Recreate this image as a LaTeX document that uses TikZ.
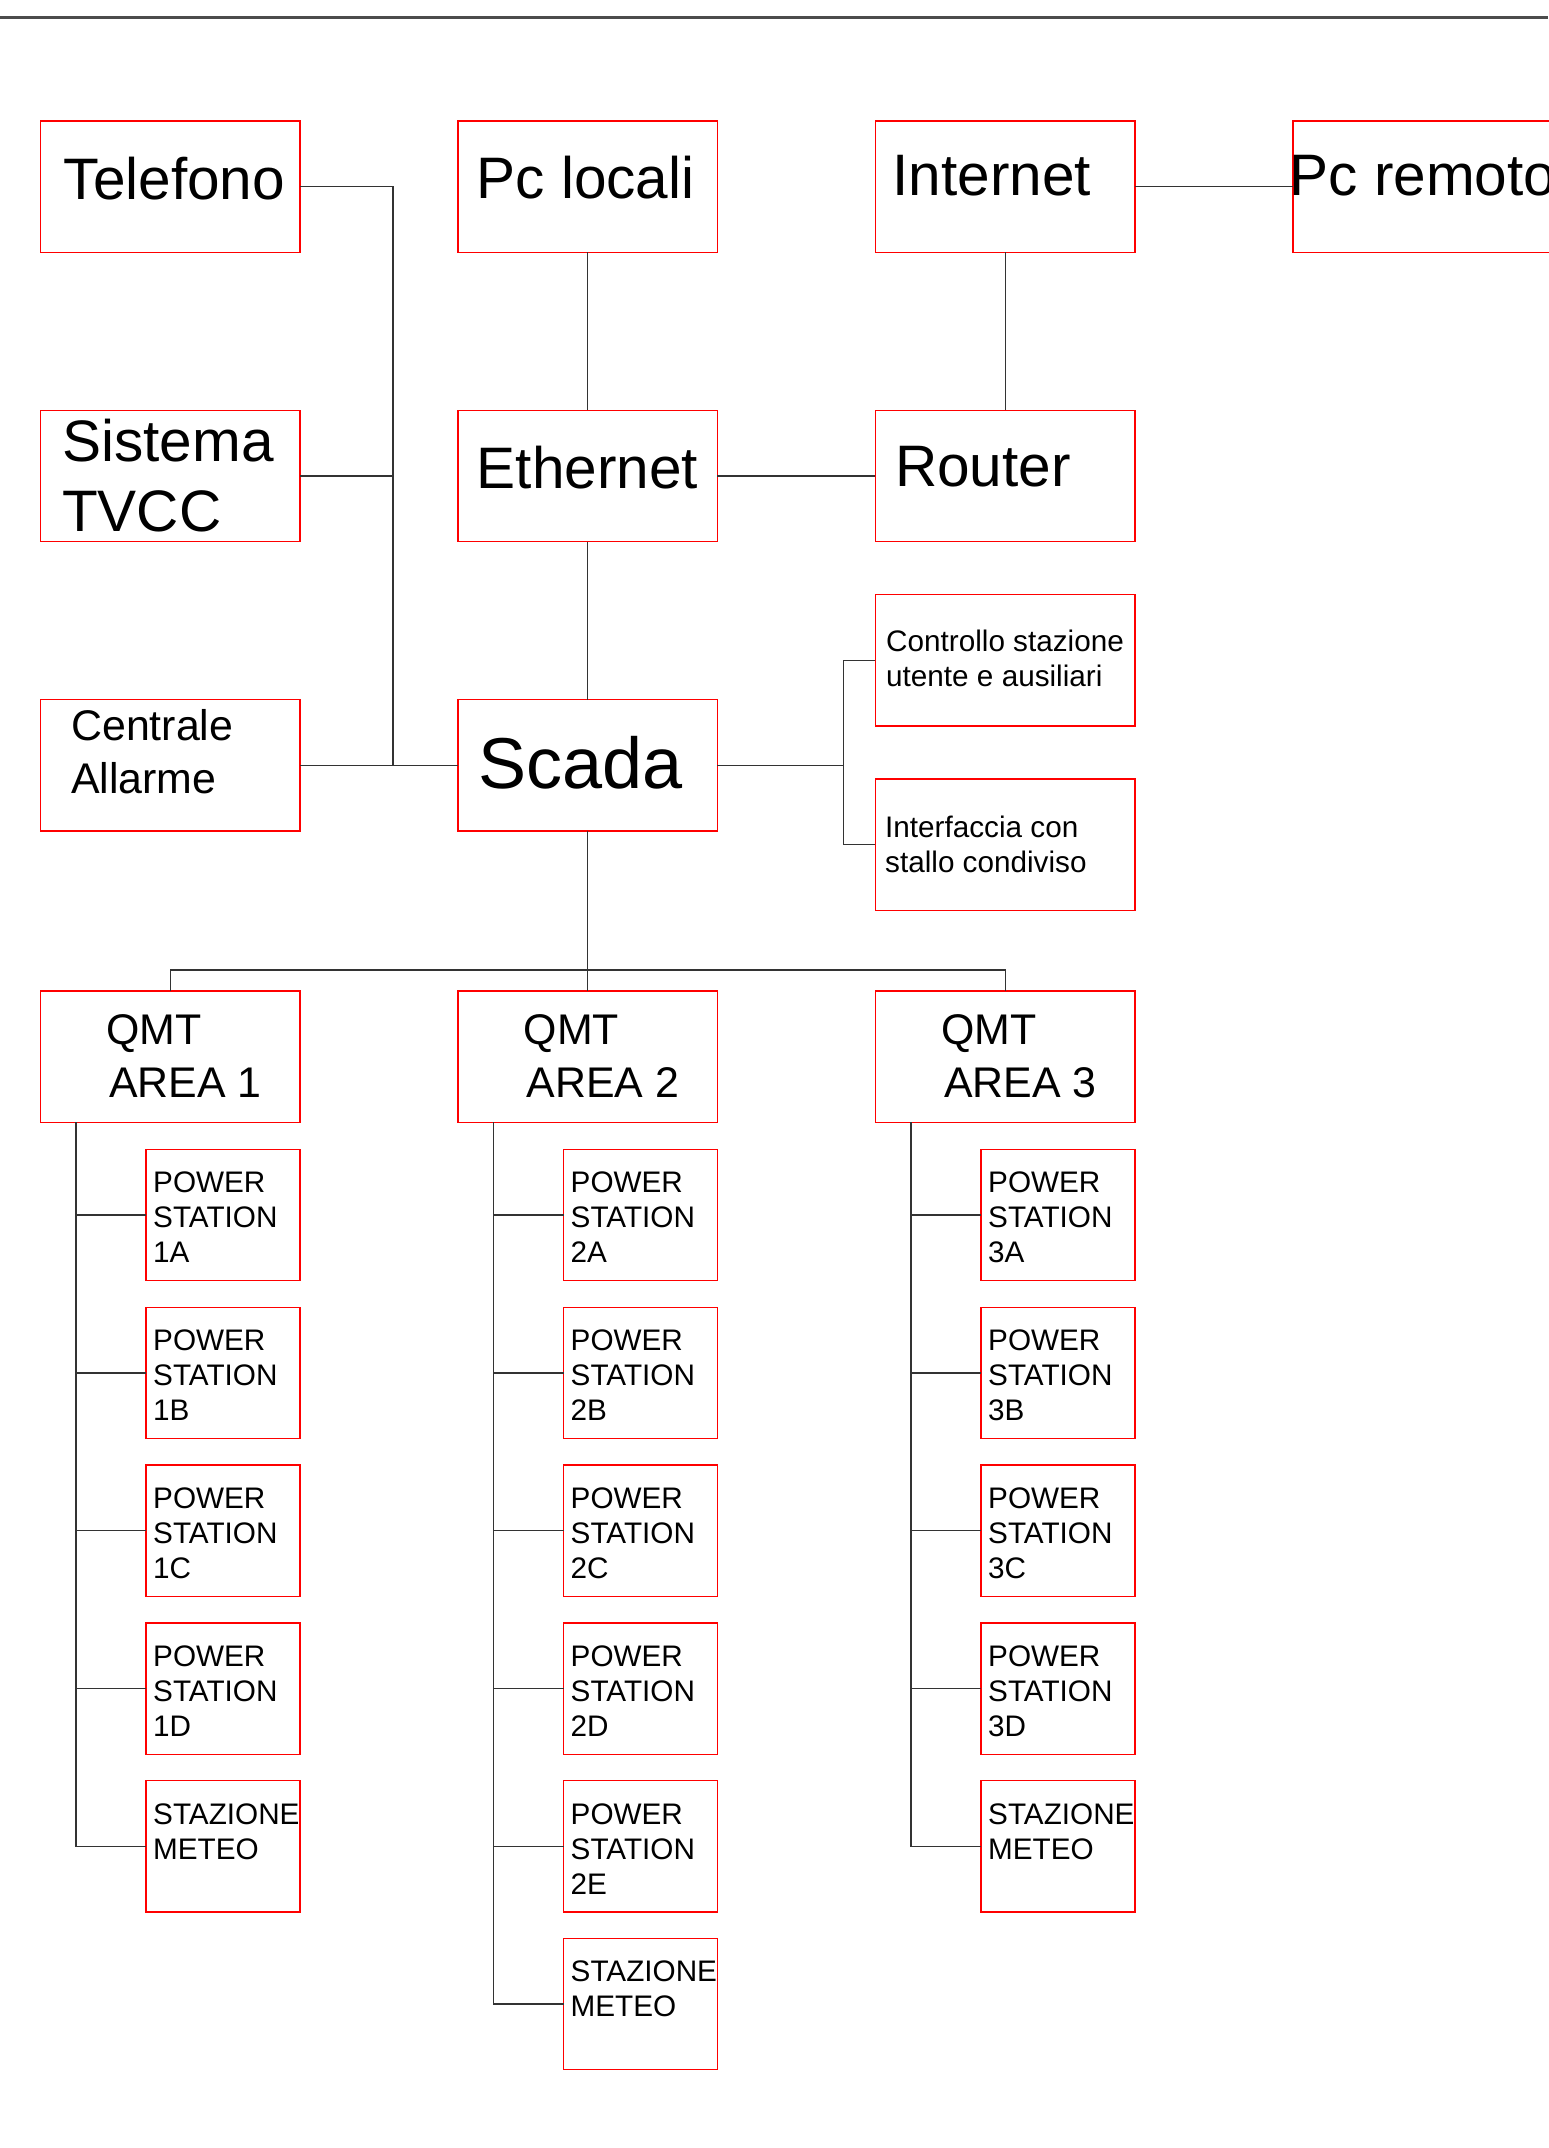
\documentclass[tikz,border=0pt]{standalone}
\usepackage{fontspec}
\setmainfont{Liberation Sans}
\usetikzlibrary{positioning}

\tikzset{
  box/.style={draw=red, line width=0.35pt, minimum width=25.95mm, minimum height=13.13mm, inner sep=0pt, outer sep=0pt},
  psbox/.style={box, minimum width=15.4mm},
  txt/.style={inner sep=0pt, align=left, anchor=north west},
  bigtxt/.style={txt, font=\fontsize{16.65}{20}\selectfont},
  scadatxt/.style={txt, font=\fontsize{20.5}{24}\selectfont},
  midtxt/.style={txt, font=\fontsize{12.2}{15.1}\selectfont},
  smalltxt/.style={txt, font=\fontsize{8.45}{9.96}\selectfont},
  link/.style={draw=black!80, line width=0.4pt},
}

\begin{document}
\begin{tikzpicture}[x=0.1mm, y=-0.1mm, node distance=15.8mm]
	\useasboundingbox (0,0) rectangle (1548,2148);
	\draw[gray!60!black, line width=0.6pt] (0,17.5) -- (1548,17.5);

	% upper part
	\node[box, anchor=north west] (tel) at (40.5,121) {};
	\node[box, below=of tel] (sis) {};
	\node[box, below=of sis] (cen) {};
	\node[box, right=of tel] (pcl) {};
	\node[box, right=of sis] (eth) {};
	\node[box, right=of cen] (sca) {};
	\node[box, right=of pcl] (int) {};
	\node[box, right=of eth] (rou) {};
	\node[box, right=of int] (pcr) {};
	\node[box, below=5.3mm of rou] (ctl) {};
	\node[box, below=5.3mm of ctl] (itf) {};

	\node[bigtxt, below right=3.5mm and 2.25mm of tel.north west] (tel-t) {Telefono};
	\node[bigtxt, below right=0.8mm and 2.1mm of sis.north west] (sis-t) {Sistema\\TVCC};
	\node[midtxt, below right=0.9mm and 3.0mm of cen.north west] (cen-t) {Centrale\\Allarme};
	\node[bigtxt, below right=3.4mm and 1.8mm of pcl.north west] (pcl-t) {Pc locali};
	\node[bigtxt, below right=3.5mm and 1.8mm of eth.north west] (eth-t) {Ethernet};
	\node[scadatxt, below right=3.6mm and 2.0mm of sca.north west] (sca-t) {Scada};
	\node[bigtxt, below right=3.4mm and 1.65mm of int.north west] (int-t) {Internet};
	\node[bigtxt, below right=3.5mm and 1.9mm of rou.north west] (rou-t) {Router};
	\node[bigtxt, below right=3.4mm and -0.4mm of pcr.north west] (pcr-t) {Pc remoto};
	\node[smalltxt, below right=3.5mm and 1.0mm of ctl.north west] (ctl-t) {Controllo stazione\\utente e ausiliari};
	\node[smalltxt, below right=3.6mm and 0.9mm of itf.north west] (itf-t) {Interfaccia con\\stallo condiviso};

	% areas
	\node[box, below=16mm of cen] (qa) {};
	\node[box, right=of qa] (qb) {};
	\node[box, right=of qb] (qc) {};
	\node[midtxt, below right=2.3mm and 6.5mm of qa.north west] (qa-t) {QMT\\\hspace{0.3mm}AREA 1};
	\node[midtxt, below right=2.3mm and 6.5mm of qb.north west] (qb-t) {QMT\\\hspace{0.3mm}AREA 2};
	\node[midtxt, below right=2.3mm and 6.5mm of qc.north west] (qc-t) {QMT\\\hspace{0.3mm}AREA 3};

	% stations area 1
	\node[psbox, below left=2.73mm and 0mm of qa.south east] (pa1) {};
	\node[psbox, below=2.65mm of pa1] (pa2) {};
	\node[psbox, below=2.65mm of pa2] (pa3) {};
	\node[psbox, below=2.65mm of pa3] (pa4) {};
	\node[psbox, below=2.65mm of pa4] (pa5) {};
	\node[smalltxt, below right=2.2mm and 0.65mm of pa1.north west] (pa1-t) {POWER\\STATION\\1A};
	\node[smalltxt, below right=2.2mm and 0.65mm of pa2.north west] (pa2-t) {POWER\\STATION\\1B};
	\node[smalltxt, below right=2.2mm and 0.65mm of pa3.north west] (pa3-t) {POWER\\STATION\\1C};
	\node[smalltxt, below right=2.2mm and 0.65mm of pa4.north west] (pa4-t) {POWER\\STATION\\1D};
	\node[smalltxt, below right=2.2mm and 0.65mm of pa5.north west] (pa5-t) {STAZIONE\\METEO};

	% stations area 2
	\node[psbox, below left=2.73mm and 0mm of qb.south east] (pb1) {};
	\node[psbox, below=2.65mm of pb1] (pb2) {};
	\node[psbox, below=2.65mm of pb2] (pb3) {};
	\node[psbox, below=2.65mm of pb3] (pb4) {};
	\node[psbox, below=2.65mm of pb4] (pb5) {};
	\node[psbox, below=2.65mm of pb5] (pb6) {};
	\node[smalltxt, below right=2.2mm and 0.65mm of pb1.north west] (pb1-t) {POWER\\STATION\\2A};
	\node[smalltxt, below right=2.2mm and 0.65mm of pb2.north west] (pb2-t) {POWER\\STATION\\2B};
	\node[smalltxt, below right=2.2mm and 0.65mm of pb3.north west] (pb3-t) {POWER\\STATION\\2C};
	\node[smalltxt, below right=2.2mm and 0.65mm of pb4.north west] (pb4-t) {POWER\\STATION\\2D};
	\node[smalltxt, below right=2.2mm and 0.65mm of pb5.north west] (pb5-t) {POWER\\STATION\\2E};
	\node[smalltxt, below right=2.2mm and 0.65mm of pb6.north west] (pb6-t) {STAZIONE\\METEO};

	% stations area 3
	\node[psbox, below left=2.73mm and 0mm of qc.south east] (pc1) {};
	\node[psbox, below=2.65mm of pc1] (pc2) {};
	\node[psbox, below=2.65mm of pc2] (pc3) {};
	\node[psbox, below=2.65mm of pc3] (pc4) {};
	\node[psbox, below=2.65mm of pc4] (pc5) {};
	\node[smalltxt, below right=2.2mm and 0.65mm of pc1.north west] (pc1-t) {POWER\\STATION\\3A};
	\node[smalltxt, below right=2.2mm and 0.65mm of pc2.north west] (pc2-t) {POWER\\STATION\\3B};
	\node[smalltxt, below right=2.2mm and 0.65mm of pc3.north west] (pc3-t) {POWER\\STATION\\3C};
	\node[smalltxt, below right=2.2mm and 0.65mm of pc4.north west] (pc4-t) {POWER\\STATION\\3D};
	\node[smalltxt, below right=2.2mm and 0.65mm of pc5.north west] (pc5-t) {STAZIONE\\METEO};

	% connections
	\coordinate (lj) at (393,0);
	\coordinate (rj) at (843.3,0);
	\coordinate (bus) at (0,970);
	\coordinate[right=3.53mm of qa.south west] (ta);
	\coordinate[right=3.53mm of qb.south west] (tb);
	\coordinate[right=3.53mm of qc.south west] (tc);

	\draw[link] (tel.east) -| (lj |- cen.east);
	\draw[link] (sis.east) -- (lj |- sis.east);
	\draw[link] (cen.east) -- (sca.west);
	\draw[link] (pcl.south) -- (eth.north);
	\draw[link] (eth.south) -- (sca.north);
	\draw[link] (eth.east) -- (rou.west);
	\draw[link] (int.south) -- (rou.north);
	\draw[link] (int.east) -- (pcr.west);
	\draw[link] (sca.east) -- (rj |- sca.east);
	\draw[link] (ctl.west) -| (rj |- itf.west) -- (itf.west);
	\draw[link] (sca.south) -- (qb.north);
	\draw[link] (qa.north) |- (bus -| qc.north) -- (qc.north);

	\draw[link] (ta) |- (pa5.west);
	\draw[link] (ta |- pa1.west) -- (pa1.west);
	\draw[link] (ta |- pa2.west) -- (pa2.west);
	\draw[link] (ta |- pa3.west) -- (pa3.west);
	\draw[link] (ta |- pa4.west) -- (pa4.west);

	\draw[link] (tb) |- (pb6.west);
	\draw[link] (tb |- pb1.west) -- (pb1.west);
	\draw[link] (tb |- pb2.west) -- (pb2.west);
	\draw[link] (tb |- pb3.west) -- (pb3.west);
	\draw[link] (tb |- pb4.west) -- (pb4.west);
	\draw[link] (tb |- pb5.west) -- (pb5.west);

	\draw[link] (tc) |- (pc5.west);
	\draw[link] (tc |- pc1.west) -- (pc1.west);
	\draw[link] (tc |- pc2.west) -- (pc2.west);
	\draw[link] (tc |- pc3.west) -- (pc3.west);
	\draw[link] (tc |- pc4.west) -- (pc4.west);
\end{tikzpicture}
\end{document}
